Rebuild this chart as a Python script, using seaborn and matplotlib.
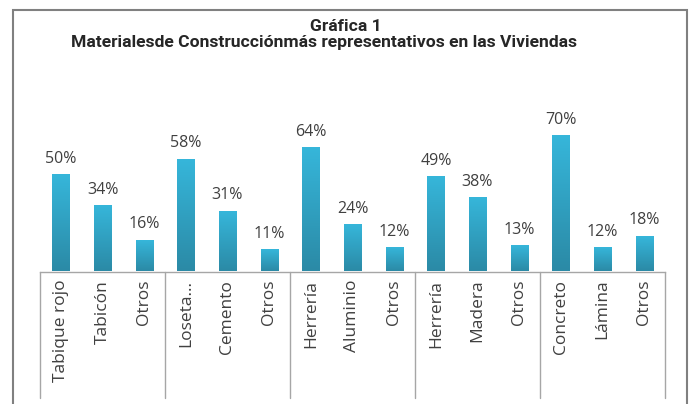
import numpy as np
import pandas as pd
import matplotlib
matplotlib.use("Agg")
import matplotlib.pyplot as plt
import seaborn as sns
from matplotlib.colors import LinearSegmentedColormap
from matplotlib.patches import Rectangle

# data
materiales = ["Tabique rojo", "Tabicón", "Otros",
              "Loseta...", "Cemento", "Otros",
              "Herrería", "Aluminio", "Otros",
              "Herrería", "Madera", "Otros",
              "Concreto", "Lámina", "Otros"]
porcentajes = [50, 34, 16, 58, 31, 11, 64, 24, 12, 49, 38, 13, 70, 12, 18]
titulo = "Gráfica 1"
subtitulo = "Materialesde Construcciónmás representativos en las Viviendas"

df = pd.DataFrame({"pos": np.arange(len(materiales)), "Material": materiales,
                   "Porcentaje": porcentajes})

sns.set_style("white")
plt.rcParams["font.family"] = ["Open Sans", "DejaVu Sans"]

fig = plt.figure(figsize=(6.89, 4.04), dpi=100)
ax = fig.add_axes([40 / 689, 132.5 / 404, 625 / 689, 154.4 / 404])

sns.barplot(data=df, x="pos", y="Porcentaje", color="#31a9cc", width=0.41,
            ax=ax, errorbar=None)

# vertical gradient on each bar, light top -> darker bottom
cmap = LinearSegmentedColormap.from_list("bar", ["#2b8aa6", "#36b6da"])
grad = np.linspace(0, 1, 100).reshape(-1, 1)
for patch in ax.patches:
    x0, y0 = patch.get_x(), patch.get_y()
    w, h = patch.get_width(), patch.get_height()
    ax.imshow(grad, cmap=cmap, origin="lower", aspect="auto",
              extent=(x0, x0 + w, y0, y0 + h), zorder=2)
    patch.set_facecolor("none")

ax.bar_label(ax.containers[0], fmt="%d%%", padding=6, fontsize=11.5,
             color="#404040")

ax.set_xlim(-0.5, len(materiales) - 0.5)
ax.set_ylim(0, 80)
ax.set_xticks(df["pos"])
ax.set_xticklabels(materiales, rotation=90, va="top", fontsize=12.5,
                   color="#404040")
ax.tick_params(axis="x", length=0, pad=6)
ax.set_yticks([])
ax.set_xlabel("")
ax.set_ylabel("")
for side in ["left", "top", "right"]:
    ax.spines[side].set_visible(False)
ax.spines["bottom"].set_color("#a6a6a6")
ax.spines["bottom"].set_linewidth(1)

# group separators below the axis
for b in np.arange(-0.5, len(materiales), 3):
    ax.plot([b, b], [0, -0.82], transform=ax.get_xaxis_transform(),
            color="#a6a6a6", lw=1, clip_on=False)

# outer chart frame
fig.patches.append(Rectangle((13 / 689, -0.1), 674 / 689, 1.1 - 10.5 / 404,
                             transform=fig.transFigure, fill=False,
                             edgecolor="#808080", lw=1.5))

fig.text(0.502, 0.924, titulo, ha="center", va="baseline", fontsize=12.6,
         fontweight="bold", family=["Roboto", "DejaVu Sans"])
fig.text(0.47, 0.884, subtitulo, ha="center", va="baseline", fontsize=12.6,
         fontweight="bold", family=["Roboto", "DejaVu Sans"])

fig.savefig("out.png", dpi=100)
